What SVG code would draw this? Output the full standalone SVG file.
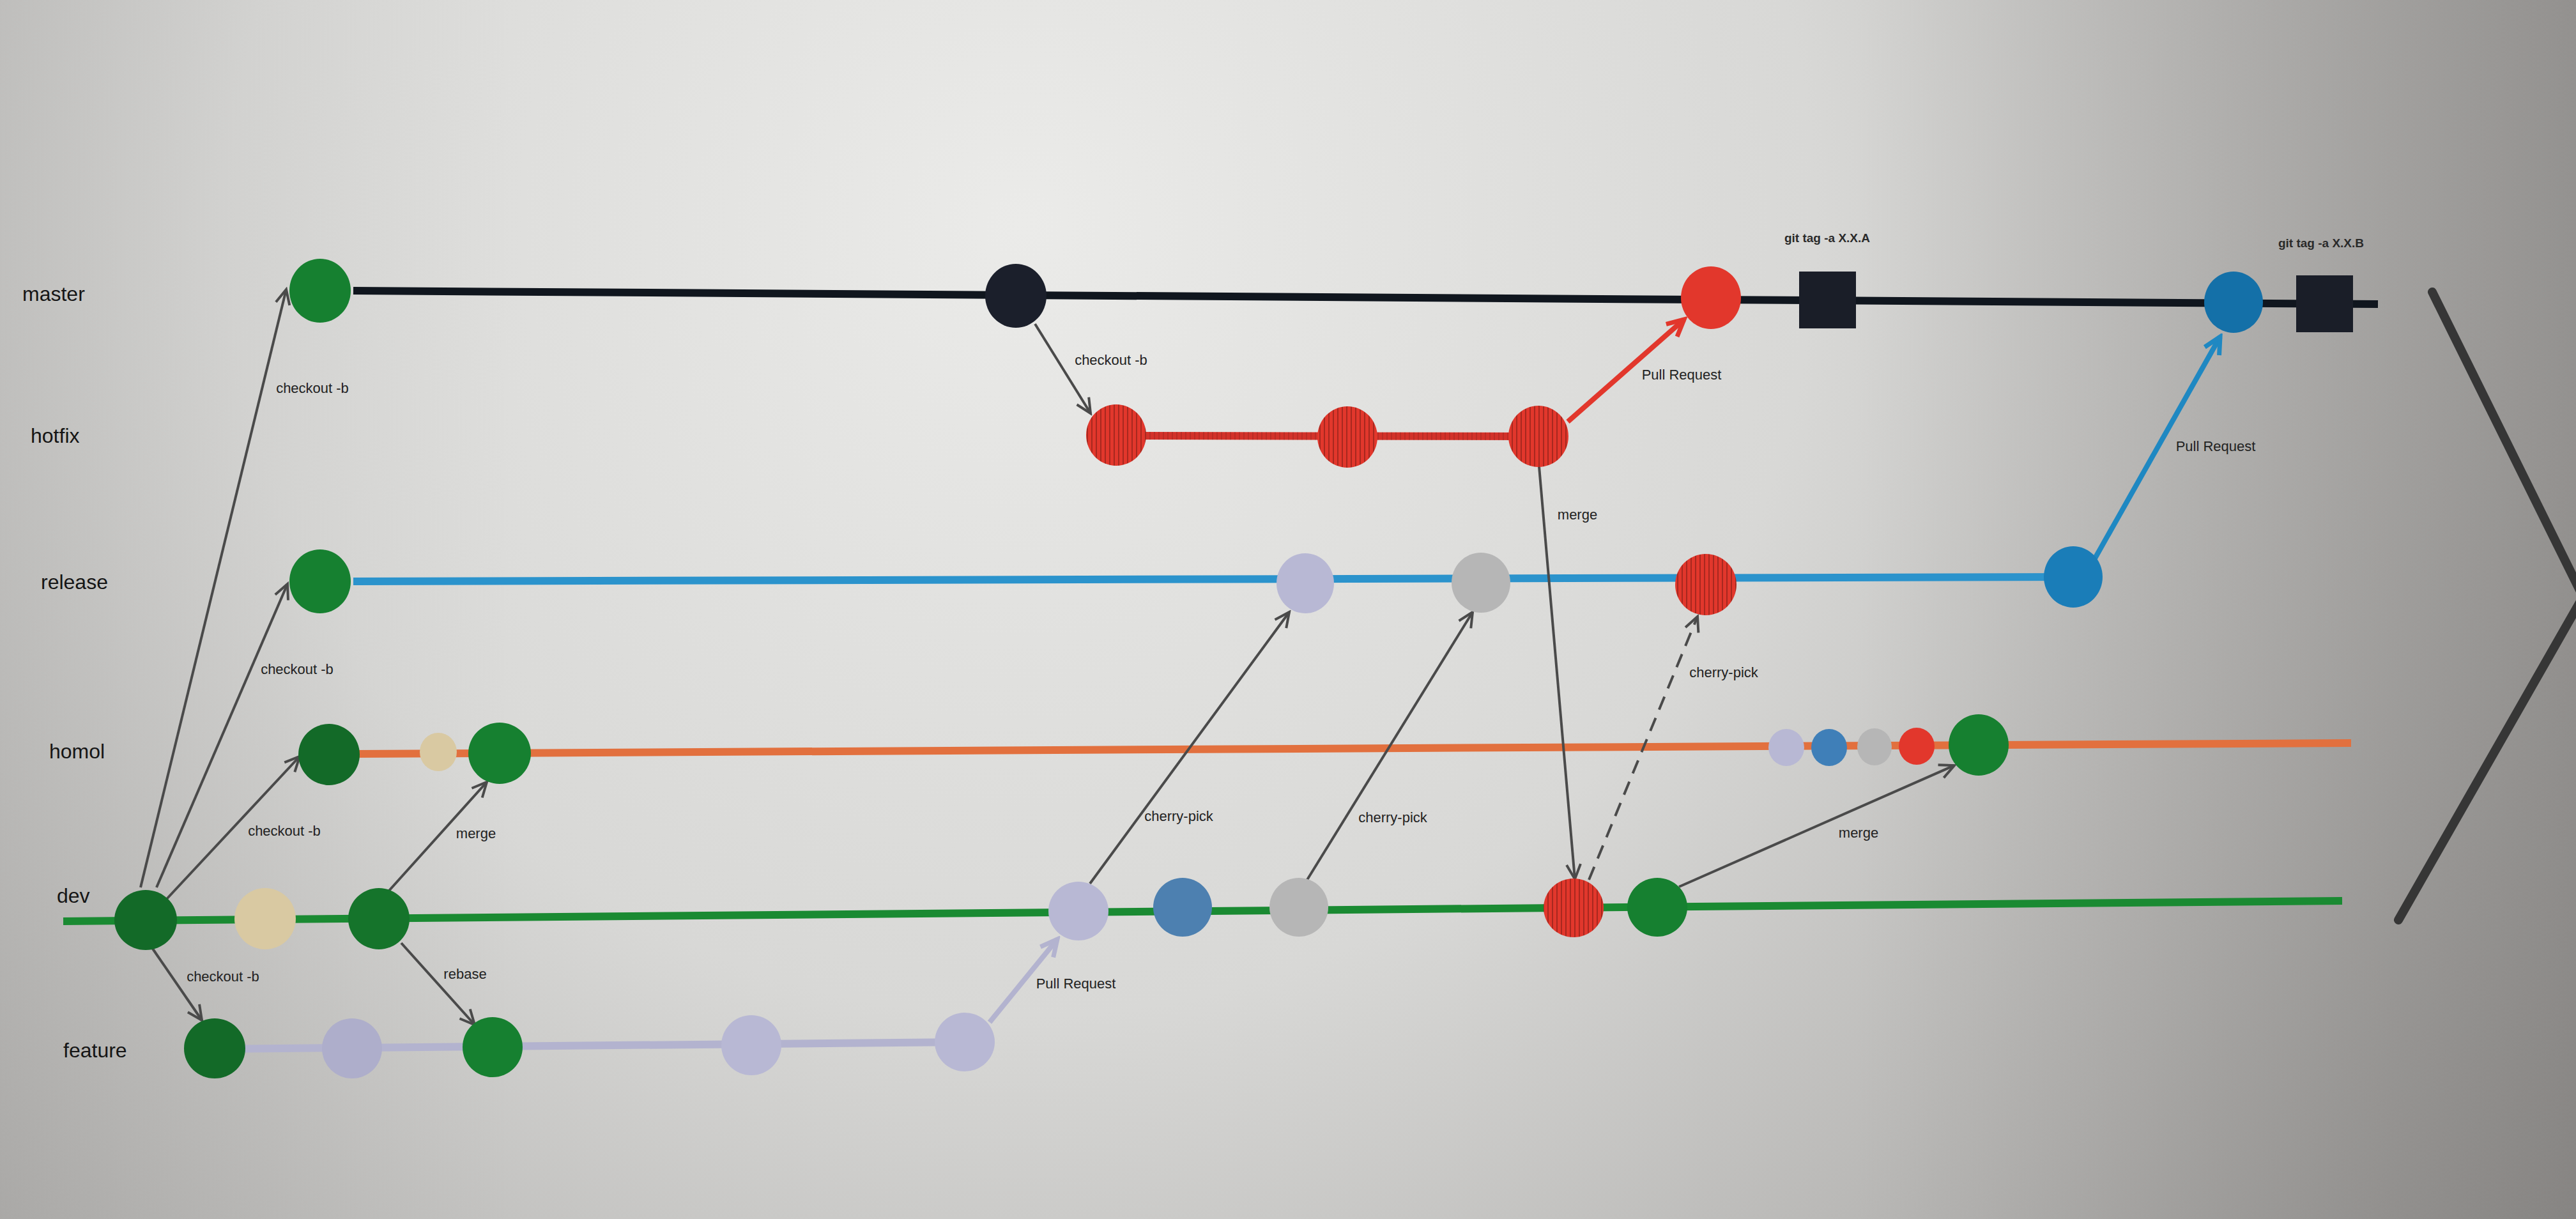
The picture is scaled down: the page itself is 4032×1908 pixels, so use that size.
<svg xmlns="http://www.w3.org/2000/svg" width="4032" height="1908" viewBox="0 0 4032 1908">
<defs>
<radialGradient id="bg" cx="1600" cy="350" r="3100" gradientUnits="userSpaceOnUse">
<stop offset="0" stop-color="#ebebe9"/>
<stop offset="0.4" stop-color="#d8d8d6"/>
<stop offset="0.7" stop-color="#b3b2b0"/>
<stop offset="1" stop-color="#8a8886"/>
</radialGradient>
<linearGradient id="shade" x1="0" y1="0" x2="4032" y2="0" gradientUnits="userSpaceOnUse">
<stop offset="0" stop-color="#7a7876" stop-opacity="0.12"/>
<stop offset="0.2" stop-color="#7a7876" stop-opacity="0"/>
<stop offset="0.72" stop-color="#6f6c6a" stop-opacity="0"/>
<stop offset="1" stop-color="#6f6c6a" stop-opacity="0.35"/>
</linearGradient>
<pattern id="hatch" width="7" height="10" patternUnits="userSpaceOnUse">
<rect width="7" height="10" fill="#e2372c"/>
<rect width="2" height="10" fill="#a8281f"/>
</pattern>
<marker id="aGray" markerWidth="30" markerHeight="30" refX="26" refY="15" orient="auto" markerUnits="userSpaceOnUse">
<path d="M3,4 L26,15 L3,26" fill="none" stroke="#4a4a4a" stroke-width="4"/>
</marker>
<marker id="aLav" markerWidth="36" markerHeight="36" refX="30" refY="18" orient="auto" markerUnits="userSpaceOnUse">
<path d="M4,5 L30,18 L4,31" fill="none" stroke="#b3b3cf" stroke-width="7"/>
</marker>
<marker id="aRed" markerWidth="36" markerHeight="36" refX="30" refY="18" orient="auto" markerUnits="userSpaceOnUse">
<path d="M4,5 L30,18 L4,31" fill="none" stroke="#e2372c" stroke-width="7"/>
</marker>
<marker id="aBlue" markerWidth="36" markerHeight="36" refX="30" refY="18" orient="auto" markerUnits="userSpaceOnUse">
<path d="M4,5 L30,18 L4,31" fill="none" stroke="#1f88c2" stroke-width="7"/>
</marker>
</defs>
<style>
.lane{font-family:"Liberation Sans",Arial,sans-serif;font-size:32px;fill:#151515}
.lbl{font-family:"Liberation Sans",Arial,sans-serif;font-size:22px;fill:#222;text-anchor:middle}
.tag{font-family:"Liberation Sans",Arial,sans-serif;font-size:19px;font-weight:bold;fill:#2a2a2a;text-anchor:middle}
.br{fill:none;stroke-width:12;stroke-linecap:butt}
.con{fill:none;stroke:#4a4a4a;stroke-width:4;marker-end:url(#aGray)}
.thick{fill:none;stroke-width:8}
.g{fill:#168030}
.gd{fill:#136a28}
.k{fill:#1b1f2b}
.r{fill:#e2372c}
.rh{fill:url(#hatch)}
.lav{fill:#b8b8d4}
.gr{fill:#b6b6b6}
.bl{fill:#4d80b0}
.bm{fill:#1470a8}
.be{fill:#d9c9a2}
.sq{fill:#1a1e28}
</style>

<rect width="4032" height="1908" fill="url(#bg)"/>
<rect width="4032" height="1908" fill="url(#shade)"/>

<g id="labels">
<text class="lane" x="35" y="471">master</text>
<text class="lane" x="48" y="693">hotfix</text>
<text class="lane" x="64" y="922">release</text>
<text class="lane" x="77" y="1187">homol</text>
<text class="lane" x="89" y="1413">dev</text>
<text class="lane" x="99" y="1655">feature</text>
</g>

<g id="branches">
<line class="br" x1="553" y1="455" x2="3722" y2="476" stroke="#10161e"/>
<line class="br" x1="1747" y1="682" x2="2408" y2="683" stroke="url(#hatch)" stroke-width="11"/>
<line x1="1747" y1="682" x2="2408" y2="683" stroke="#c8302a" stroke-width="11" opacity="0.6"/>
<line class="br" x1="553" y1="910" x2="3245" y2="903" stroke="#2b93cc"/>
<line class="br" x1="561" y1="1180" x2="3680" y2="1163" stroke="#e2703e"/>
<line class="br" x1="99" y1="1442" x2="3666" y2="1410" stroke="#1a8a32" stroke-linecap="round"/>
<line class="br" x1="336" y1="1642" x2="1510" y2="1631" stroke="#b3b3cf"/>
</g>

<g id="connectors">
<line class="con" x1="220" y1="1389" x2="448" y2="453"/>
<line class="con" x1="245" y1="1389" x2="450" y2="914"/>
<line class="con" x1="261" y1="1407" x2="469" y2="1184"/>
<line class="con" x1="239" y1="1485" x2="316" y2="1597"/>
<line class="con" x1="609" y1="1394" x2="762" y2="1224"/>
<line class="con" x1="628" y1="1476" x2="743" y2="1604"/>
<line class="thick" x1="1549" y1="1600" x2="1655" y2="1470" stroke="#b3b3cf" marker-end="url(#aLav)"/>
<line class="con" x1="1706" y1="1383" x2="2018" y2="958"/>
<line class="con" x1="2046" y1="1377" x2="2305" y2="958"/>
<line class="con" x1="1620" y1="507" x2="1707" y2="647"/>
<line class="thick" x1="2454" y1="660" x2="2636" y2="500" stroke="#e2372c" marker-end="url(#aRed)"/>
<line class="con" x1="2409" y1="730" x2="2465" y2="1376"/>
<line class="con" x1="2487" y1="1377" x2="2657" y2="965" stroke-width="5" stroke-dasharray="22 14"/>
<line class="con" x1="2628" y1="1388" x2="3059" y2="1198"/>
<line class="thick" x1="3279" y1="874" x2="3475" y2="527" stroke="#1f88c2" marker-end="url(#aBlue)"/>
</g>

<g id="connector-labels">
<text class="lbl" x="489" y="615">checkout -b</text>
<text class="lbl" x="465" y="1055">checkout -b</text>
<text class="lbl" x="445" y="1308">checkout -b</text>
<text class="lbl" x="349" y="1536">checkout -b</text>
<text class="lbl" x="745" y="1312">merge</text>
<text class="lbl" x="728" y="1532">rebase</text>
<text class="lbl" x="1684" y="1547">Pull Request</text>
<text class="lbl" x="1845" y="1285">cherry-pick</text>
<text class="lbl" x="2180" y="1287">cherry-pick</text>
<text class="lbl" x="1739" y="571">checkout -b</text>
<text class="lbl" x="2632" y="594">Pull Request</text>
<text class="lbl" x="2469" y="813">merge</text>
<text class="lbl" x="2698" y="1060">cherry-pick</text>
<text class="lbl" x="2909" y="1311">merge</text>
<text class="lbl" x="3468" y="706">Pull Request</text>
<text class="tag" x="2860" y="379">git tag -a X.X.A</text>
<text class="tag" x="3633" y="387">git tag -a X.X.B</text>
</g>

<g id="master-nodes">
<g id="m1"><ellipse class="g" cx="501" cy="455" rx="48" ry="50"/></g>
<g id="m2"><ellipse class="k" cx="1590" cy="463" rx="48" ry="50"/></g>
<g id="m3"><ellipse class="r" cx="2678" cy="466" rx="47" ry="49"/></g>
<g id="tagA"><rect class="sq" x="2816" y="425" width="89" height="89"/></g>
<g id="m4"><ellipse class="bm" cx="3496" cy="473" rx="46" ry="48"/></g>
<g id="tagB"><rect class="sq" x="3594" y="431" width="89" height="89"/></g>
</g>

<g id="hotfix-nodes">
<g id="h1"><ellipse class="rh" cx="1747" cy="681" rx="47" ry="48"/></g>
<g id="h2"><ellipse class="rh" cx="2109" cy="684" rx="47" ry="48"/></g>
<g id="h3"><ellipse class="rh" cx="2408" cy="683" rx="47" ry="48"/></g>
</g>

<g id="release-nodes">
<g id="r1"><ellipse class="g" cx="501" cy="910" rx="48" ry="50"/></g>
<g id="r2"><ellipse class="lav" cx="2043" cy="913" rx="45" ry="47"/></g>
<g id="r3"><ellipse class="gr" cx="2318" cy="912" rx="46" ry="47"/></g>
<g id="r4"><ellipse class="rh" cx="2670" cy="915" rx="48" ry="48"/></g>
<g id="r5"><ellipse class="bm" cx="3245" cy="903" rx="46" ry="48" style="fill:#1a7db8"/></g>
</g>

<g id="homol-nodes">
<g id="o1"><ellipse class="gd" cx="515" cy="1181" rx="48" ry="48"/></g>
<g id="o2"><ellipse class="be" cx="686" cy="1177" rx="29" ry="30"/></g>
<g id="o3"><ellipse class="g" cx="782" cy="1179" rx="49" ry="48"/></g>
<g id="o4"><ellipse class="lav" cx="2796" cy="1170" rx="28" ry="29"/></g>
<g id="o5"><ellipse class="bl" cx="2863" cy="1170" rx="28" ry="29" style="fill:#3f7fb8"/></g>
<g id="o6"><ellipse class="gr" cx="2934" cy="1169" rx="27" ry="29"/></g>
<g id="o7"><ellipse class="r" cx="3000" cy="1168" rx="28" ry="29"/></g>
<g id="o8"><ellipse class="g" cx="3097" cy="1166" rx="47" ry="48"/></g>
</g>

<g id="dev-nodes">
<g id="d1"><ellipse class="gd" cx="228" cy="1440" rx="49" ry="47"/></g>
<g id="d2"><ellipse class="be" cx="415" cy="1438" rx="48" ry="48"/></g>
<g id="d3"><ellipse class="g" cx="593" cy="1438" rx="48" ry="48" style="fill:#15742b"/></g>
<g id="d4"><ellipse class="lav" cx="1688" cy="1426" rx="47" ry="46"/></g>
<g id="d5"><ellipse class="bl" cx="1851" cy="1420" rx="46" ry="46"/></g>
<g id="d6"><ellipse class="gr" cx="2033" cy="1420" rx="46" ry="46"/></g>
<g id="d7"><ellipse class="rh" cx="2463" cy="1421" rx="47" ry="46"/></g>
<g id="d8"><ellipse class="g" cx="2594" cy="1420" rx="47" ry="46"/></g>
</g>

<g id="feature-nodes">
<g id="f1"><ellipse class="gd" cx="336" cy="1641" rx="48" ry="47"/></g>
<g id="f2"><ellipse class="lav" cx="551" cy="1641" rx="47" ry="47" style="fill:#aeaecb"/></g>
<g id="f3"><ellipse class="g" cx="771" cy="1639" rx="47" ry="47"/></g>
<g id="f4"><ellipse class="lav" cx="1176" cy="1636" rx="47" ry="47"/></g>
<g id="f5"><ellipse class="lav" cx="1510" cy="1631" rx="47" ry="46"/></g>
</g>

<g id="chevron">
<polyline points="3807,457 4043,934 3754,1440" fill="none" stroke="#363636" stroke-width="14" stroke-linecap="round" stroke-linejoin="miter"/>
</g>
</svg>
